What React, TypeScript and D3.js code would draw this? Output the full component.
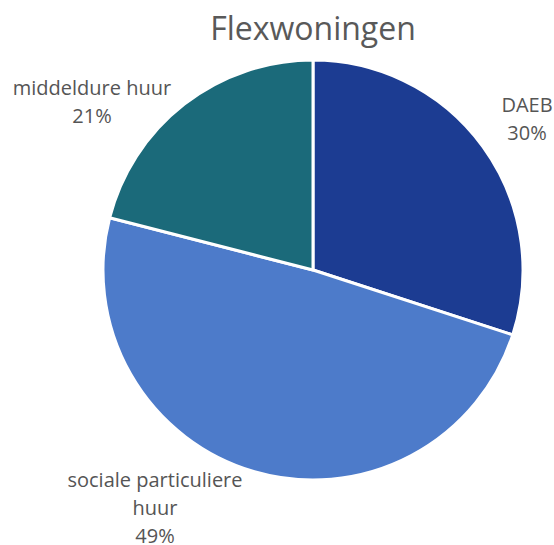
import React from 'react';
import * as d3 from 'd3';

const categories = ['DAEB', 'sociale particuliere huur', 'middeldure huur'];
const values = [30, 49, 21];
const labelLines = [['DAEB', '30%'], ['sociale particuliere', 'huur', '49%'], ['middeldure huur', '21%']];
const colors = ['#1c3c92', '#4d7bca', '#1b6a7a'];

const App: React.FC = () => {
  const width = 554;
  const height = 545;
  const cx = 313;
  const cy = 270;
  const r = 210;

  const pie = d3.pie<number>().sort(null).value(d => d);
  const arcs = pie(values);
  const arc = d3.arc<d3.PieArcDatum<number>>().innerRadius(0).outerRadius(r);

  // label anchors (first baseline), tuned to the reference
  const labelPos: [number, number][] = [
    [527, 112],
    [155, 487],
    [92, 95],
  ];

  return (
    <svg width={width} height={height} style={{ position: 'absolute', left: 0, top: 0, background: '#fff' }}
      fontFamily="'Open Sans', 'Noto Sans', sans-serif">
      <text x={cx} y={40} textAnchor="middle" fontSize={32} fill="#595959">Flexwoningen</text>
      <g transform={`translate(${cx},${cy})`}>
        {arcs.map((a, i) => (
          <path key={categories[i]} d={arc(a) || ''} fill={colors[i]} stroke="#fff" strokeWidth={3} strokeLinejoin="round" />
        ))}
      </g>
      {labelLines.map((lines, i) => (
        <text key={i} textAnchor="middle" fontSize={20} fill="#555">
          {lines.map((l, j) => (
            <tspan key={j} x={labelPos[i][0]} y={labelPos[i][1] + j * 28}>{l}</tspan>
          ))}
        </text>
      ))}
    </svg>
  );
};

export default App;
